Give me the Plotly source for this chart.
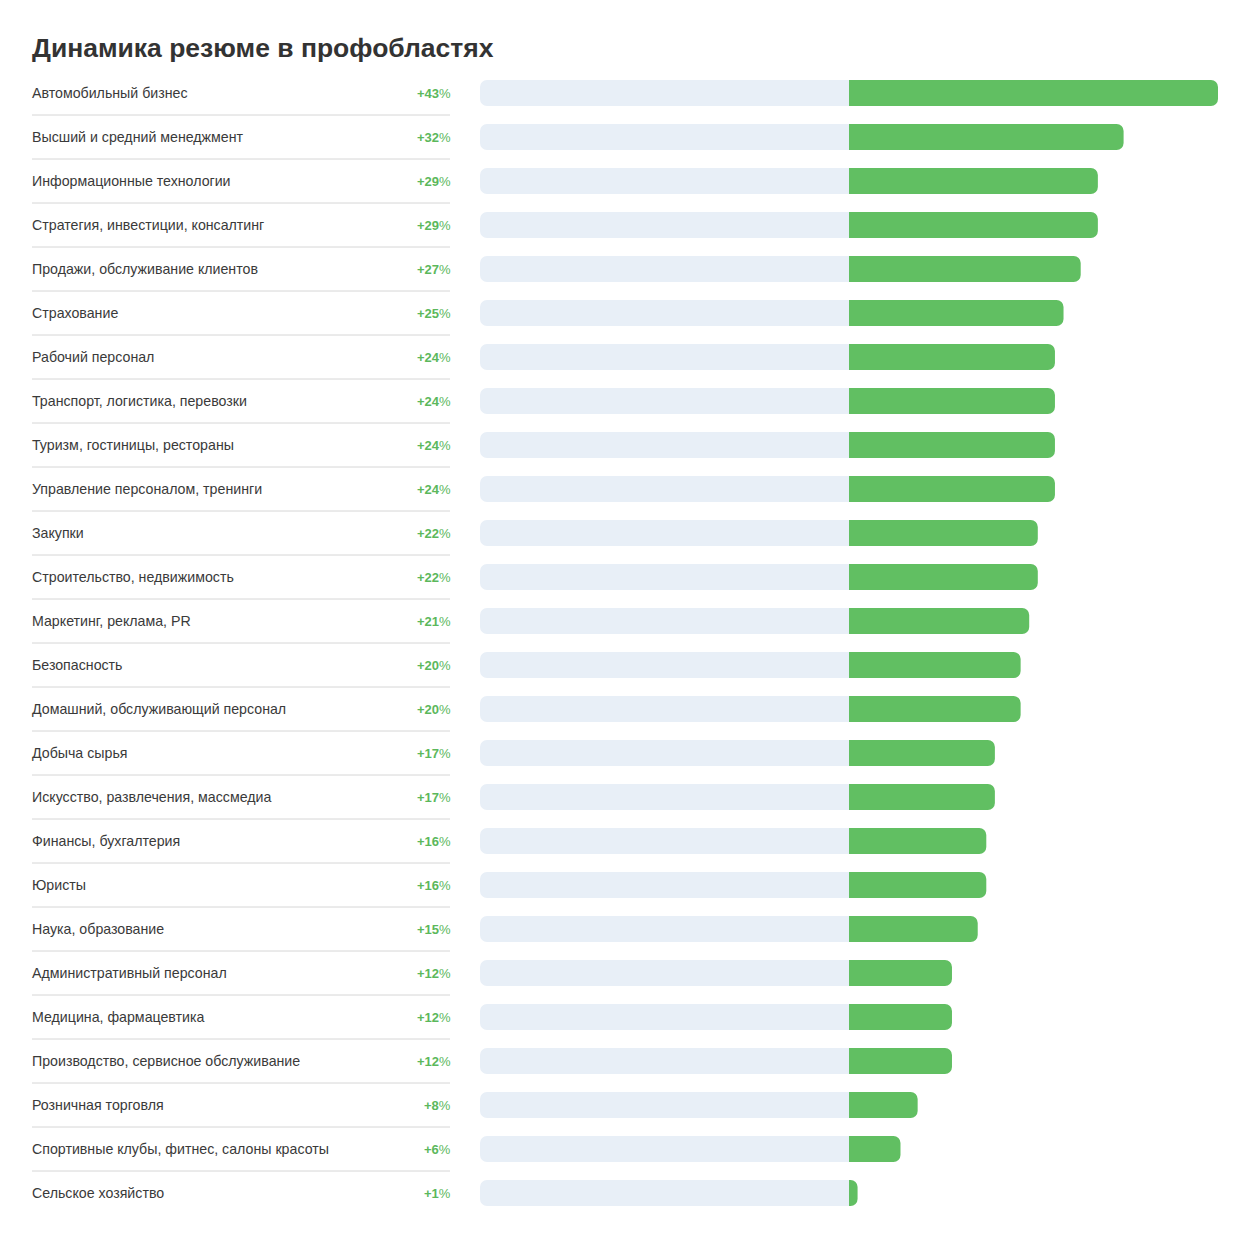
import plotly.graph_objects as go

# profession areas, top to bottom
categories = [
    "Автомобильный бизнес",
    "Высший и средний менеджмент",
    "Информационные технологии",
    "Стратегия, инвестиции, консалтинг",
    "Продажи, обслуживание клиентов",
    "Страхование",
    "Рабочий персонал",
    "Транспорт, логистика, перевозки",
    "Туризм, гостиницы, рестораны",
    "Управление персоналом, тренинги",
    "Закупки",
    "Строительство, недвижимость",
    "Маркетинг, реклама, PR",
    "Безопасность",
    "Домашний, обслуживающий персонал",
    "Добыча сырья",
    "Искусство, развлечения, массмедиа",
    "Финансы, бухгалтерия",
    "Юристы",
    "Наука, образование",
    "Административный персонал",
    "Медицина, фармацевтика",
    "Производство, сервисное обслуживание",
    "Розничная торговля",
    "Спортивные клубы, фитнес, салоны красоты",
    "Сельское хозяйство",
]
growth = [43, 32, 29, 29, 27, 25, 24, 24, 24, 24, 22, 22, 21, 20, 20,
          17, 17, 16, 16, 15, 12, 12, 12, 8, 6, 1]

# page puts the figure 8px in from the top-left corner
W, H = 1250, 1238
L, R, T, B = 472, 40, 63, 31
plot_w = W - L - R
max_val = max(growth)


def px_to_paper(px):
    return (px - L) / plot_w


green = "#61bf62"
track = "#e8eff7"
text_col = "#333333"

fig = go.Figure()
# left half of the track (negative side), rounded on the left end
fig.add_bar(
    x=[-max_val] * len(categories), y=categories, orientation="h",
    marker=dict(color=track, cornerradius=7, line_width=0),
    hoverinfo="skip", showlegend=False,
)
fig.add_bar(
    x=growth, y=categories, orientation="h",
    marker=dict(color=green, cornerradius=7, line_width=0),
    hovertemplate="%{y}: +%{x}%<extra></extra>", showlegend=False,
)

font_fam = "Liberation Sans, Arial, sans-serif"
annotations = []
shapes = []
for i, (cat, val) in enumerate(zip(categories, growth)):
    annotations.append(dict(
        x=px_to_paper(22), xref="paper", y=cat, yref="y",
        text=cat, showarrow=False, xanchor="left", yanchor="middle",
        font=dict(family=font_fam, size=14.2, color="#3a3a3a"),
    ))
    annotations.append(dict(
        x=px_to_paper(445), xref="paper", y=cat, yref="y",
        text=f"<b>+{val}</b>%", showarrow=False, xanchor="right", yanchor="middle",
        font=dict(family=font_fam, size=13, color="#5cb85c"),
    ))
    if i < len(categories) - 1:
        shapes.append(dict(
            type="line", xref="paper", yref="y",
            x0=px_to_paper(24), x1=px_to_paper(442), y0=i + 0.5, y1=i + 0.5,
            line=dict(color="#d6d6d6", width=1),
        ))

fig.update_layout(
    width=W, height=H,
    margin=dict(l=L, r=R, t=T, b=B),
    paper_bgcolor="white", plot_bgcolor="white",
    barmode="overlay", bargap=0.41,
    title=dict(
        text="<b>Динамика резюме в профобластях</b>",
        x=24 / W, xanchor="left",
        y=1 - 40 / H, yanchor="middle",
        font=dict(family=font_fam, size=26.5, color=text_col),
    ),
    xaxis=dict(range=[-max_val, max_val], visible=False, fixedrange=True),
    yaxis=dict(autorange="reversed", visible=False, fixedrange=True,
               categoryorder="array", categoryarray=categories),
    annotations=annotations,
    shapes=shapes,
)

fig.write_html("out.html")
